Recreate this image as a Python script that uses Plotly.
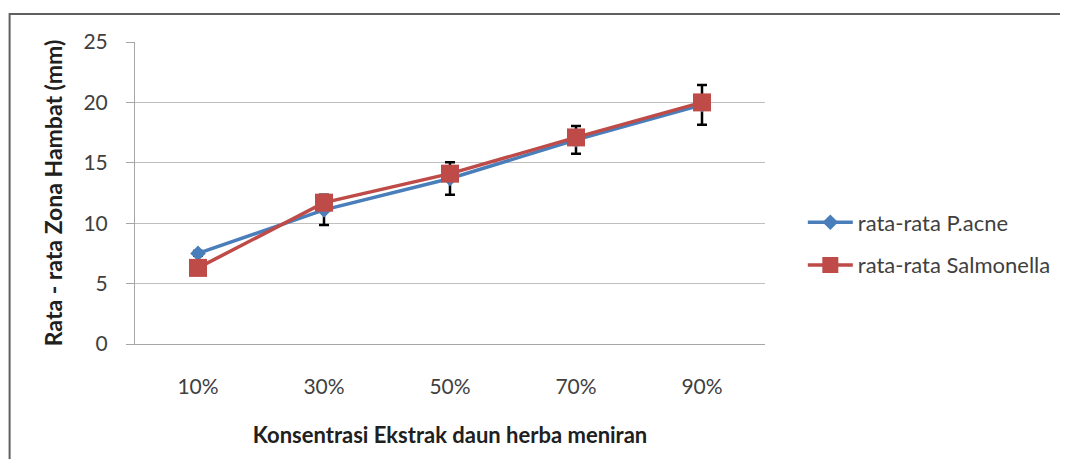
import plotly.graph_objects as go

categories = ["10%", "30%", "50%", "70%", "90%"]
pacne = [7.5, 11.1, 13.7, 16.9, 19.8]
pacne_err = [0.2, 1.25, 1.35, 1.15, 1.65]
salmonella = [6.3, 11.7, 14.1, 17.1, 20.0]
y_ticks = [0, 5, 10, 15, 20, 25]

OFF = 8  # page body margin
W, H = 1068 - OFF, 467 - 2 * OFF
L, T = 135 - OFF, 42 - OFF
R = W - (768 - OFF)
B = H - (344 - OFF)
pw, ph = W - L - R, H - T - B

def px_x(p):
    return (p - OFF - L) / pw

def px_y(p):
    return (H - B - (p - OFF)) / ph

font_fam = "Lato, 'Open Sans', sans-serif"

fig = go.Figure()
fig.add_trace(go.Scatter(
    x=categories, y=pacne, name="rata-rata P.acne", mode="lines+markers",
    legendgroup="a",
    line=dict(color="#4a7ebb", width=3.5),
    marker=dict(symbol="diamond", size=12, color="#4a7ebb"),
    error_y=dict(type="data", array=pacne_err, visible=True, color="black", thickness=2.5, width=5),
))
fig.add_trace(go.Scatter(
    x=categories, y=salmonella, name="rata-rata Salmonella", mode="lines+markers",
    legendgroup="b",
    line=dict(color="#be4b48", width=3.5),
    marker=dict(symbol="square", size=18, color="#be4b48"),
))

xl, xr = px_x(9), px_x(1100)
yt, yb = px_y(14), px_y(480)
frame_path = f"M {xl},{yb} L {xl},{yt} L {xr},{yt}"

fig.update_layout(
    width=W, height=H,
    margin=dict(l=L, r=R, t=T, b=B),
    paper_bgcolor="white", plot_bgcolor="white",
    font=dict(family=font_fam, size=21, color="#404040"),
    showlegend=True,
    legend=dict(x=px_x(806), y=px_y(244), xanchor="left", yanchor="middle",
                font=dict(size=22, color="#404040"), tracegroupgap=11,
                itemwidth=45, bgcolor="rgba(0,0,0,0)"),
    xaxis=dict(type="category", range=[-0.5, 4.5], showgrid=False,
               showline=True, linecolor="#a6a6a6", linewidth=1,
               ticks="", ticklabelstandoff=24, tickfont=dict(size=21, color="#404040"),
               title=dict(text="<b>Konsentrasi Ekstrak daun herba meniran</b>",
                          font=dict(size=22, color="#202020"), standoff=30)),
    yaxis=dict(range=[0, 25], tickvals=y_ticks, showgrid=True, gridcolor="#bfbfbf",
               gridwidth=1, showline=True, linecolor="#a6a6a6", linewidth=1,
               ticks="outside", ticklen=8, tickcolor="#a6a6a6", zeroline=False,
               ticklabelstandoff=14,
               tickfont=dict(size=21, color="#404040"),
               title=dict(text="<b>Rata - rata Zona Hambat (mm)</b>",
                          font=dict(size=23, color="#202020"), standoff=14)),
    shapes=[
        dict(type="path", xref="paper", yref="paper", path=frame_path,
             fillcolor="rgba(0,0,0,0)", line=dict(color="#606060", width=2)),
    ],
)

fig.write_html("out.html")
